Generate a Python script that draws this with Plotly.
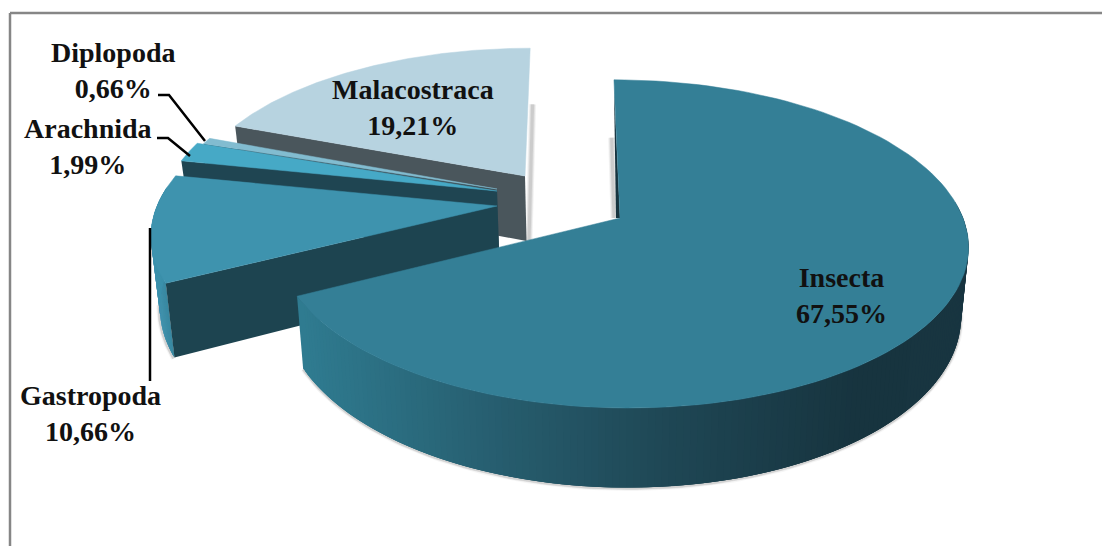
import math
import plotly.graph_objects as go

# Phylum shares, in the order they run clockwise from twelve o'clock
taxa = ["Insecta", "Gastropoda", "Arachnida", "Diplopoda", "Malacostraca"]
shares = [67.55, 10.66, 1.99, 0.66, 19.21]

# Drawing style and exploded placement of each wedge (pixel canvas)
WIDTH, HEIGHT = 1102, 546
PERSPECTIVE = 0.158
VANISH_X = 600
style = {
    "Insecta":      dict(apex=(620, 218), rx=343, rx_left=340, ry=160, shear=7, depth=67, top="#347f96", side="#1b3f4b"),
    "Gastropoda":   dict(apex=(497, 206), rx=340, ry=158, shear=-10, depth=69, top="#3e93ae", side="#1d4450"),
    "Arachnida":    dict(apex=(497, 191), rx=332, ry=158, shear=0, depth=60, top="#46a9c6", side="#1f4552"),
    "Diplopoda":    dict(apex=(497, 189), rx=325, ry=150, shear=0, depth=60, top="#82bcd0", side="#3d5058"),
    "Malacostraca": dict(apex=(525, 176), rx=330, ry=148, shear=-6, depth=65, top="#b7d3e0", side="#4a565c"),
}
insecta_rim_stops = [(300, "#2f7b90"), (500, "#265c6d"), (650, "#1f4856"), (850, "#17343f"), (968, "#183540")]
gastropoda_rim_stops = [(150, "#3f93ae"), (180, "#2f7b92")]


def angle_spans():
    spans, running, whole = {}, 0.0, sum(shares)
    for name, share in zip(taxa, shares):
        start = running / whole * 2 * math.pi
        running += share
        spans[name] = (start, running / whole * 2 * math.pi)
    return spans


def top_point(s, theta):
    u, v = math.sin(theta), math.cos(theta)
    w = 1 + PERSPECTIVE * v
    rx = s.get("rx_left", s["rx"]) if u < 0 else s["rx"]
    return s["apex"][0] + (rx * u - s["shear"] * v) / w, s["apex"][1] - s["ry"] * v / w


def drop(s, x, y, theta=None):
    """Push a point on the top face down to the bottom of the wedge."""
    w = 1.0 if theta is None else 1 + PERSPECTIVE * math.cos(theta)
    return x + (VANISH_X - x) * 0.02, y + s["depth"] / w


def mix(stops, x):
    def rgb(c):
        return [int(c[i:i + 2], 16) for i in (1, 3, 5)]
    if x <= stops[0][0]:
        return stops[0][1]
    for (x0, c0), (x1, c1) in zip(stops, stops[1:]):
        if x <= x1:
            t = (x - x0) / (x1 - x0)
            a, b = rgb(c0), rgb(c1)
            return "#%02x%02x%02x" % tuple(round(p + (q - p) * t) for p, q in zip(a, b))
    return stops[-1][1]


fig = go.Figure()


def poly(xs, ys, color, seam=0.0):
    fig.add_trace(go.Scatter(x=xs, y=ys, mode="lines", fill="toself", fillcolor=color,
                             line=dict(color=color, width=seam), hoverinfo="skip", showlegend=False))


def stroke(xs, ys, color, width):
    fig.add_trace(go.Scatter(x=xs, y=ys, mode="lines", line=dict(color=color, width=width),
                             hoverinfo="skip", showlegend=False))


def arc(a, b, n):
    return [a + (b - a) * i / n for i in range(n + 1)]


def soft_shadow(xs, ys, passes):
    for width, alpha in passes:
        stroke(xs, ys, f"rgba(70,70,70,{alpha})", width)


TIGHT = ((5, 0.05), (3, 0.09), (2, 0.12))
WIDE = ((7, 0.07), (5, 0.10), (3, 0.13))


def draw_wedge(name, rim_stops=None):
    s = style[name]
    a, b = spans[name]
    thetas = arc(a, b, 120)
    tops = [top_point(s, t) for t in thetas]
    apex = s["apex"]

    # Front rim, shaded in overlapping strips so it reads as a curved wall
    if rim_stops:
        front = [t for t in arc(a, b, 240) if math.cos(t) < 0.12]
        for t0, t1 in zip(front, front[3:]):
            x0, y0 = top_point(s, t0)
            x1, y1 = top_point(s, t1)
            bx0, by0 = drop(s, x0, y0, t0)
            bx1, by1 = drop(s, x1, y1, t1)
            poly([x0, x1, bx1, bx0, x0], [y0, y1, by1, by0, y0], mix(rim_stops, (x0 + x1) / 2))

    # Flat cut wall facing the viewer
    if name != "Insecta":
        sx, sy = tops[0]
        bx, by = drop(s, sx, sy, a)
        ax, ay = drop(s, *apex)
        poly([apex[0], sx, bx, ax, apex[0]], [apex[1], sy, by, ay, apex[1]], s["side"])
    else:
        sx, sy = tops[0]
        poly([sx, apex[0], apex[0] - 4, sx], [sy + 6, apex[1], apex[1], sy + 6], "#17343f")

    # Top face
    xs = [apex[0]] + [p[0] for p in tops] + [apex[0]]
    ys = [apex[1]] + [p[1] for p in tops] + [apex[1]]
    poly(xs, ys, s["top"], seam=0.5)


spans = angle_spans()

# Drop shadows sit underneath every wedge
mala = style["Malacostraca"]
mx, my = top_point(mala, 0)
bx, by = drop(mala, mx, my, 0)
soft_shadow([bx + 1, mala["apex"][0] + 4], [by, mala["apex"][1] + mala["depth"]], WIDE)

ins = style["Insecta"]
ix, iy = top_point(ins, 0)
bx, by = drop(ins, ix, iy, 0)
soft_shadow([bx - 2, ins["apex"][0] - 6], [by, ins["apex"][1]], WIDE)

a, b = spans["Insecta"]
rim = [drop(ins, *top_point(ins, t), t) for t in arc(math.radians(95), b, 120)]
soft_shadow([p[0] for p in rim], [p[1] + 1 for p in rim], TIGHT)

gas = style["Gastropoda"]
a, b = spans["Gastropoda"]
rim = [drop(gas, *top_point(gas, t), t) for t in arc(a, a + (b - a) * 0.45, 30)]
soft_shadow([p[0] - 1 for p in rim], [p[1] + 1 for p in rim], TIGHT)

# Back to front, so nearer wedges cover the walls of farther ones
draw_wedge("Malacostraca")
draw_wedge("Diplopoda")
draw_wedge("Arachnida")
draw_wedge("Gastropoda", gastropoda_rim_stops)
draw_wedge("Insecta", insecta_rim_stops)

# Leader lines
leaders = [
    ([158, 169, 205], [95, 95, 141]),
    ([157, 168, 190], [138, 138, 156]),
    ([150, 150], [228, 381]),
]
for lx, ly in leaders:
    stroke(lx, ly, "#000000", 2.5)

label_at = {
    "Insecta": (841, 295),
    "Gastropoda": (90, 413),
    "Arachnida": (88, 146),
    "Diplopoda": (113, 70),
    "Malacostraca": (413, 107),
}
for name, share in zip(taxa, shares):
    lx, ly = label_at[name]
    fig.add_annotation(x=lx, y=ly, xref="x", yref="y", showarrow=False, align="center",
                       text=f"<b>{name}<br>{share:.2f}%</b>".replace(".", ","),
                       font=dict(family="Liberation Serif", size=28, color="#111111"))

frame = dict(type="line", xref="x", yref="y", line=dict(color="#868686", width=2.5))
fig.update_layout(
    width=WIDTH, height=HEIGHT, margin=dict(l=0, r=0, t=0, b=0),
    paper_bgcolor="#ffffff", plot_bgcolor="#ffffff", showlegend=False,
    xaxis=dict(range=[0, WIDTH], visible=False, fixedrange=True),
    yaxis=dict(range=[HEIGHT, 0], visible=False, fixedrange=True),
    shapes=[
        dict(frame, x0=10, x1=WIDTH, y0=13, y1=13),
        dict(frame, x0=10, x1=10, y0=13, y1=HEIGHT),
    ],
)
fig.write_html("out.html", config=dict(displayModeBar=False))
